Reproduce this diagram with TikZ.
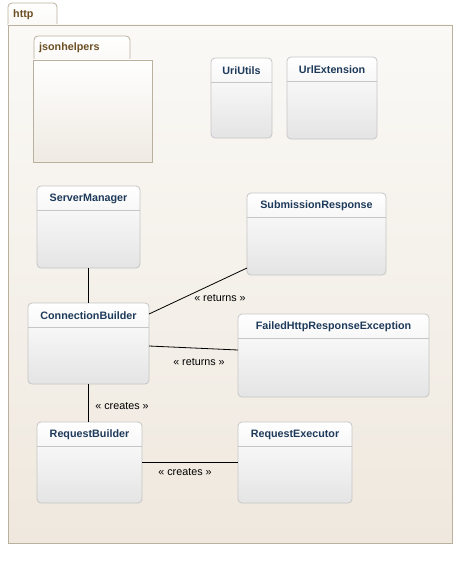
\documentclass[tikz,border=0pt]{standalone}
\usepackage{fontspec}
\setmainfont{Liberation Sans}
\usetikzlibrary{positioning}
\definecolor{pkgline}{HTML}{BAB09E}
\definecolor{pkgtop}{HTML}{FAF9F6}
\definecolor{pkgbot}{HTML}{EFE8DE}
\definecolor{subbot}{HTML}{EFEAE2}
\definecolor{pkgtext}{HTML}{6B4F22}
\definecolor{clsline}{HTML}{C6C6C6}
\definecolor{clsbot}{HTML}{E4E4E4}
\definecolor{clstext}{HTML}{1E3A5A}

\begin{document}
\begin{tikzpicture}[x=1bp,y=-1bp,
    umlclass/.style={draw=clsline,rounded corners=4bp,inner sep=0pt,outer sep=0pt,
        top color=white,bottom color=clsbot,line width=0.8bp,
        path picture={\draw[clsline,line width=0.8bp]
            ([yshift=-24bp]path picture bounding box.north west) --
            ([yshift=-24bp]path picture bounding box.north east);}},
    classname/.style={text=clstext,font=\fontsize{10.8}{12}\selectfont\bfseries,inner sep=0pt},
    pkgname/.style={text=pkgtext,font=\fontsize{10.8}{12}\selectfont\bfseries,inner sep=0pt},
    stereo/.style={font=\fontsize{10.8}{12}\selectfont,inner sep=0pt},
    assoc/.style={draw=black,line width=0.8bp}]
    \useasboundingbox (0,0) rectangle (467,563);
    % paquete http
    \shade[draw=pkgline,top color=white,bottom color=pkgtop,line width=0.8bp]
        (8,25) [rounded corners=4bp] -- (8,3) -- (57,3) [sharp corners] -- (57,25) -- cycle;
    \shade[draw=pkgline,top color=pkgtop,bottom color=pkgbot,line width=0.8bp]
        (8,25) rectangle (452,543);
    \node[pkgname,anchor=west] (httplbl) at (13,15) {http};
    % paquete jsonhelpers
    \shade[draw=pkgline,top color=white,bottom color=pkgtop,line width=0.8bp]
        (34,60) [rounded corners=4bp] -- (34,36) -- (130,36) [sharp corners] -- (130,60) -- cycle;
    \shade[draw=pkgline,top color=white,bottom color=subbot,line width=0.8bp]
        (33,60) rectangle (152,162);
    \node[pkgname,anchor=west] (jsonlbl) at (39,48) {jsonhelpers};
    % clases
    \node[umlclass,minimum width=61bp,minimum height=80bp] (uriutils) at (241.5,98) {};
    \node[classname] at ([yshift=-13bp]uriutils.north) {UriUtils};
    \node[umlclass,minimum width=90bp,minimum height=82bp] (urlext) at (332,98) {};
    \node[classname] at ([yshift=-13bp]urlext.north) {UrlExtension};
    \node[umlclass,minimum width=103bp,minimum height=82bp] (srvmgr) at (88.5,227) {};
    \node[classname] at ([yshift=-13bp]srvmgr.north) {ServerManager};
    \node[umlclass,minimum width=139bp,minimum height=82bp] (subresp) at (316.5,234) {};
    \node[classname] at ([yshift=-13bp]subresp.north) {SubmissionResponse};
    \node[umlclass,minimum width=121bp,minimum height=81bp] (connbld) at (88.5,343.5) {};
    \node[classname] at ([yshift=-13bp]connbld.north) {ConnectionBuilder};
    \node[umlclass,minimum width=191bp,minimum height=83bp] (failed) at (333.5,355.5) {};
    \node[classname] at ([yshift=-13bp]failed.north) {FailedHttpResponseException};
    \node[umlclass,minimum width=105bp,minimum height=81bp] (reqbld) at (89.5,462.5) {};
    \node[classname] at ([yshift=-13bp]reqbld.north) {RequestBuilder};
    \node[umlclass,minimum width=114bp,minimum height=81bp] (reqexec) at (295,462.5) {};
    \node[classname] at ([yshift=-13bp]reqexec.north) {RequestExecutor};
    % asociaciones
    \draw[assoc] (srvmgr.south) -- (connbld.north);
    \draw[assoc] ([yshift=-11bp]connbld.north east) -- ([yshift=7bp]subresp.south west);
    \node[stereo] (ret1) at (220,298) {« returns »};
    \draw[assoc] ([yshift=-2.5bp]connbld.east) -- ([yshift=5.5bp]failed.west);
    \node[stereo] (ret2) at (199,362) {« returns »};
    \draw[assoc] (connbld.south) -- (connbld.south |- reqbld.north);
    \node[stereo] (cre1) at (122,406) {« creates »};
    \draw[assoc] (reqbld.east) -- (reqexec.west);
    \node[stereo] (cre2) at (185,472) {« creates »};
\end{tikzpicture}
\end{document}
